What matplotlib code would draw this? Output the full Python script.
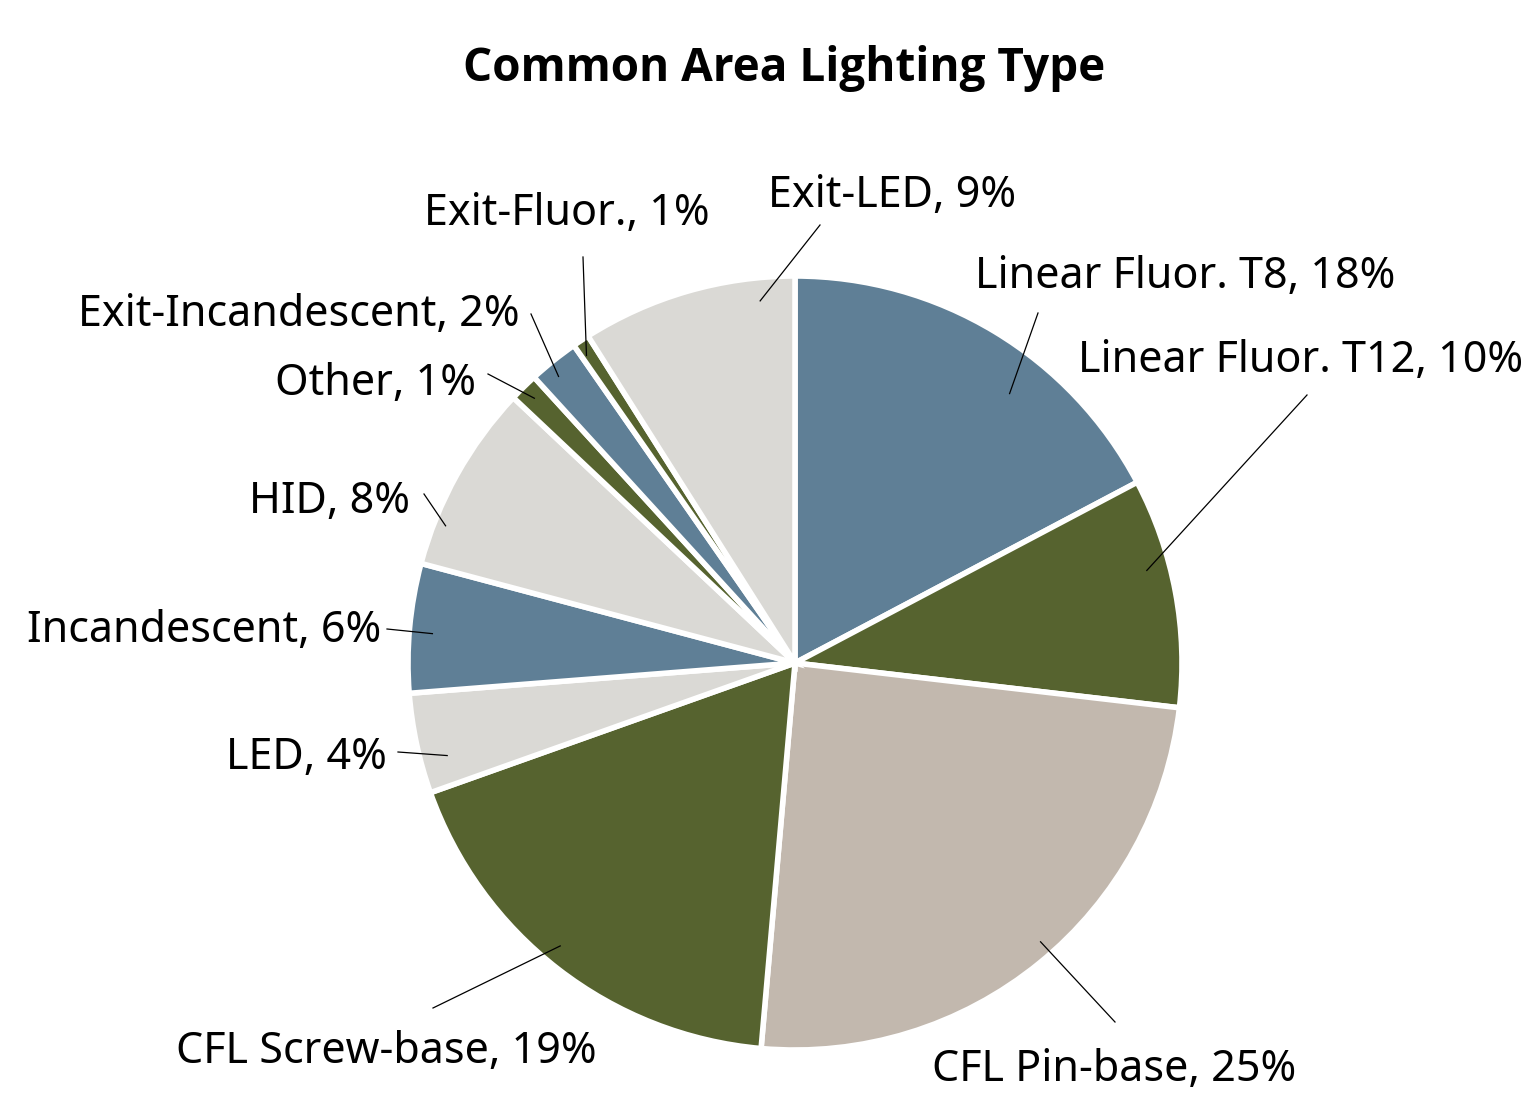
import matplotlib.pyplot as plt
import numpy as np

plt.rcParams['font.family'] = ['Noto Sans', 'DejaVu Sans']

categories = ['Linear Fluor. T8', 'Linear Fluor. T12', 'CFL Pin-base', 'CFL Screw-base',
              'LED', 'Incandescent', 'HID', 'Other', 'Exit-Incandescent', 'Exit-Fluor.',
              'Exit-LED']
shares = [17.3, 9.6, 24.6, 18.2, 4.2, 5.4, 7.9, 1.2, 2.1, 0.7, 9.0]
shown_pct = [18, 10, 25, 19, 4, 6, 8, 1, 2, 1, 9]

blue = '#5F7F96'
olive = '#56632F'
light = '#DAD9D5'
tan = '#C2B8AE'
colors = [blue, olive, tan, olive, light, blue, light, olive, blue, olive, light]

W, H = 1522, 1094
center = (795, H - 663)
radius = 387

# label layout in pixels (top-origin): text x, baseline y, ha, leader end x, leader end y
label_pos = [
    (975, 288, 'left', 1038, 313),
    (1078, 372, 'left', 1307, 395),
    (932, 1081, 'left', 1115, 1022),
    (597, 1063, 'right', 433, 1008),
    (387, 769, 'right', 398, 752),
    (381, 642, 'right', 387, 629),
    (410, 513, 'right', 424, 494),
    (476, 395, 'right', 488, 374),
    (520, 326, 'right', 531, 314),
    (567, 225, 'center', 583, 257),
    (892, 207, 'center', 820, 225),
]
# where the leader touches the wedge: fraction along the wedge angle, fraction of radius
leader_frac = [0.38, 0.62, 0.525, 0.47, 0.69, 0.53, 0.77, 0.5, 0.62, 0.72, 0.17]
leader_r = [0.89, 0.94, 0.96, 0.95, 0.93, 0.94, 0.97, 0.96, 0.96, 0.96, 0.94]

fig = plt.figure(figsize=(W / 100, H / 100), dpi=100)
ax = fig.add_axes([0, 0, 1, 1])

wedges, _ = ax.pie(shares, colors=colors, startangle=90, counterclock=False,
                   center=center, radius=radius,
                   wedgeprops=dict(edgecolor='white', linewidth=4))
ax.set_xlim(0, W)
ax.set_ylim(0, H)
ax.set_aspect('equal')
ax.axis('off')

for i, w in enumerate(wedges):
    tx, ty, ha, lx, ly = label_pos[i]
    ang = np.deg2rad(w.theta1 + leader_frac[i] * (w.theta2 - w.theta1))
    px = center[0] + leader_r[i] * radius * np.cos(ang)
    py = center[1] + leader_r[i] * radius * np.sin(ang)
    ax.plot([px, lx], [py, H - ly], color='black', linewidth=0.9)
    ax.text(tx, H - ty, f'{categories[i]}, {shown_pct[i]}%', ha=ha, va='baseline',
            fontsize=31)

ax.text(784, H - 81, 'Common Area Lighting Type', ha='center', va='baseline',
        fontsize=33, fontweight='bold', family=['Open Sans', 'DejaVu Sans'])

fig.savefig('out.png', dpi=100)
